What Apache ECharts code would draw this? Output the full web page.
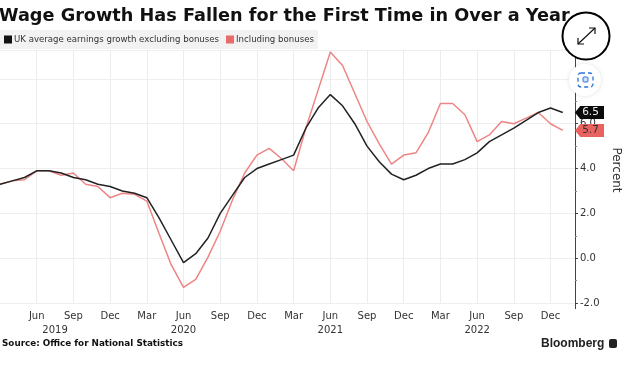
<!DOCTYPE html>
<html><head><meta charset="utf-8">
<style>html,body{margin:0;padding:0;background:#fff}#c{width:638px;height:367px}</style>
<script src="https://cdn.jsdelivr.net/npm/echarts@6/dist/echarts.min.js"></script>
</head><body><div id="c"></div>
<script>
const categories = ['Mar','Apr','May','Jun','Jul','Aug','Sep','Oct','Nov','Dec','Jan','Feb',
 'Mar','Apr','May','Jun','Jul','Aug','Sep','Oct','Nov','Dec','Jan','Feb',
 'Mar','Apr','May','Jun','Jul','Aug','Sep','Oct','Nov','Dec','Jan','Feb',
 'Mar','Apr','May','Jun','Jul','Aug','Sep','Oct','Nov','Dec','Jan','Feb'];
const excludingBonuses = [3.3,3.45,3.6,3.9,3.9,3.8,3.6,3.5,3.3,3.2,3.0,2.9,2.7,1.8,0.8,-0.2,0.2,0.9,2.0,2.8,3.6,4.0,4.2,4.4,4.6,5.8,6.7,7.3,6.8,6.0,5.0,4.3,3.75,3.5,3.7,4.0,4.2,4.2,4.4,4.7,5.2,5.5,5.8,6.15,6.5,6.7,6.5];
const includingBonuses = [3.3,3.45,3.5,3.9,3.9,3.7,3.8,3.3,3.2,2.7,2.9,2.85,2.55,1.1,-0.3,-1.3,-0.95,0.05,1.2,2.6,3.8,4.6,4.9,4.45,3.9,5.8,7.5,9.2,8.6,7.35,6.1,5.1,4.2,4.6,4.7,5.6,6.9,6.9,6.4,5.2,5.5,6.1,6.0,6.25,6.5,6.0,5.7];
const yearTicks = [4.5,15,27,39];
const yearLabels = ['2019','2020','2021','2022'];
const yTicksMin = -2, yTicksMax = 9.29, yInterval = 2;
const seriesNames = ['UK average earnings growth excluding bonuses','Including bonuses'];
const titleText = 'Wage Growth Has Fallen for the First Time in Over a Year';
const sourceText = 'Source: Office for National Statistics';
const FONT = '"DejaVu Sans"';
const tagPath = 'path://M0 50 L18 0 L100 0 L100 100 L18 100 Z';
function tag(v, color, textColor){
  return {silent:true, symbol:'none', animation:false, data:[{
    coord:[47, v], symbol:tagPath, symbolSize:[29,13], symbolOffset:[14.5,0],
    itemStyle:{color:color}, value:v.toFixed(1),
    label:{show:true, position:'inside', offset:[1,0], color:textColor, fontFamily:FONT, fontSize:10.5, formatter:v.toFixed(1)}
  }]};
}
const chart = echarts.init(document.getElementById('c'), null, {renderer:'canvas'});
chart.setOption({
  animation:false,
  backgroundColor:'#fff',
  title:{text:titleText, left:-1, top:7, padding:0,
    textStyle:{fontFamily:FONT, fontWeight:'bold', fontSize:17.7, color:'#111'}},
  legend:{left:0, top:30, padding:[5,4,5,4], itemGap:7, itemWidth:8, itemHeight:8, icon:'rect',
    backgroundColor:'#f2f2f2', textStyle:{fontFamily:FONT, fontSize:8.6, color:'#333', padding:[0,0,0,-3]},
    data:[{name:seriesNames[0], itemStyle:{color:'#111'}},{name:seriesNames[1], itemStyle:{color:'#e96a6a'}}]},
  grid:{left:0, right:63, top:50, bottom:64},
  xAxis:[{
    type:'category', data:categories, boundaryGap:false,
    axisLine:{show:false}, axisTick:{show:false},
    axisLabel:{interval:(i)=>i%3===0 && i>0 && i<47, margin:8, fontFamily:FONT, fontSize:10, color:'#333',
      formatter:(v)=>v},
    splitLine:{show:true, interval:(i)=>i%3===0 && i>0 && i<47, lineStyle:{color:'#ececec', width:1}}
  },{
    type:'value', position:'bottom', min:0, max:47, offset:14,
    axisLine:{show:false}, axisTick:{show:false}, splitLine:{show:false},
    axisLabel:{margin:8, fontFamily:FONT, fontSize:10, color:'#333', customValues:yearTicks, showMinLabel:true, showMaxLabel:true,
      formatter:(v)=>yearLabels[yearTicks.indexOf(v)]||''}
  }],
  yAxis:{
    type:'value', position:'right', min:yTicksMin, max:yTicksMax, interval:yInterval,
    name:'Percent', nameLocation:'middle', nameRotate:-90, nameGap:19,
    nameTextStyle:{fontFamily:FONT, fontSize:12, color:'#333', padding:[0,13,0,0]},
    axisLine:{show:true, onZero:false, lineStyle:{color:'#444', width:1}},
    axisTick:{show:true, length:3, lineStyle:{color:'#444'}},
    minorTick:{show:true, splitNumber:2, length:2, lineStyle:{color:'#888'}},
    axisLabel:{margin:5, fontFamily:FONT, fontSize:10, color:'#333', showMaxLabel:false, formatter:(v)=>v.toFixed(1)},
    splitLine:{show:true, lineStyle:{color:'#efefef', width:1}}
  },
  series:[
    {name:seriesNames[0], type:'line', xAxisIndex:0, data:excludingBonuses, symbol:'none', z:3,
     lineStyle:{color:'#222', width:1.5}, itemStyle:{color:'#111'}, markPoint:tag(6.5,'#0b0b0b','#eee')},
    {name:seriesNames[1], type:'line', xAxisIndex:0, data:includingBonuses, symbol:'none', z:2,
     lineStyle:{color:'#ee8585', width:1.5}, itemStyle:{color:'#e96a6a'}, markPoint:tag(5.7,'#e8625f','#333')}
  ],
  graphic:[
    {type:'line', z:5, shape:{x1:575.5,y1:303,x2:575.5,y2:309}, style:{stroke:'#444', lineWidth:1}},
    {type:'text', z:5, left:2, top:339, style:{text:sourceText, font:'bold 8.8px '+FONT, fill:'#111'}},
    {type:'text', z:5, left:541, top:338, style:{text:'Bloomberg', font:'bold 12px "Liberation Sans"', fill:'#222'}},
    {type:'rect', z:5, shape:{x:609,y:339,width:8,height:9,r:2}, style:{fill:'#222'}},
    {type:'circle', z:6, shape:{cx:585,cy:80,r:16}, style:{fill:'#fff', shadowBlur:4, shadowColor:'rgba(0,0,0,0.12)'}},
    {type:'rect', z:7, shape:{x:578,y:73,width:15,height:14,r:3}, style:{fill:'none', stroke:'#2b74d8', lineWidth:1.3, lineDash:[4,3]}},
    {type:'rect', z:7, shape:{x:583,y:77,width:5,height:5,r:1}, style:{fill:'#cfe0f7', stroke:'#2b74d8', lineWidth:1}},
    {type:'circle', z:8, shape:{cx:586,cy:36,r:23.5}, style:{fill:'#fff', stroke:'#000', lineWidth:2}},
    {type:'line', z:9, shape:{x1:578,y1:44,x2:595,y2:28}, style:{stroke:'#111', lineWidth:1.2}},
    {type:'polyline', z:9, shape:{points:[[589,28],[595,28],[595,34]]}, style:{stroke:'#111', fill:'none', lineWidth:1.2}},
    {type:'polyline', z:9, shape:{points:[[578,38],[578,44],[584,44]]}, style:{stroke:'#111', fill:'none', lineWidth:1.2}}
  ]
});
</script></body></html>
